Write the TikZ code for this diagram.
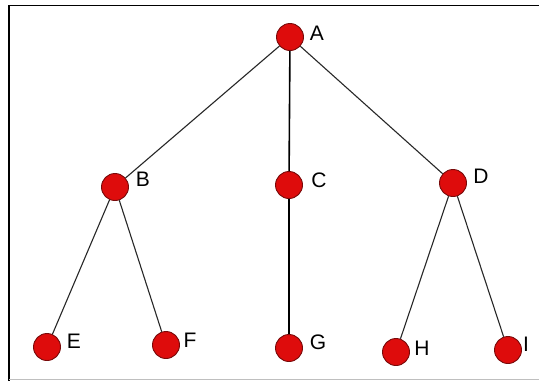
\documentclass[tikz,border=0pt]{standalone}
\usepackage{fontspec}
\setmainfont{Liberation Sans}
\definecolor{nodered}{RGB}{222,12,12}
\definecolor{nodeedge}{RGB}{120,10,10}
\definecolor{edgegray}{RGB}{40,40,40}
\tikzset{
  vert/.style={circle, fill=nodered, draw=nodeedge, line width=0.9pt, minimum size=27pt, inner sep=0pt},
  lbl/.style={font=\fontsize{21}{21}\selectfont, text=black, inner sep=0pt},
  link/.style={draw=edgegray, line width=1.1pt},
  vlink/.style={draw=black, line width=1.6pt},
  frame/.style={draw=black, line width=1.3pt}
}
\begin{document}
\begin{tikzpicture}[x=1pt,y=-1pt]
\useasboundingbox (0,0) rectangle (539,381);
\fill[white] (0,0) rectangle (539,381);
% frame
\coordinate (f1) at (9,5.5);
\coordinate (f2) at (539,5.5);
\coordinate (f3) at (9,381);
\coordinate (f4) at (9,379.5);
\coordinate (f5) at (539,379.5);
\draw[frame] (f2) -- (f1) -- (f3);
\draw[draw=black!25, line width=1pt] (f4) -- (f5);
% vertices
\node[vert] (A) at (290,37) {};
\node[vert] (B) at (115,187) {};
\node[vert] (C) at (289,185) {};
\node[vert] (D) at (453,183) {};
\node[vert] (E) at (47,347) {};
\node[vert] (F) at (166,345) {};
\node[vert] (G) at (289,348) {};
\node[vert] (H) at (396,352) {};
\node[vert] (I) at (508,350) {};
% edges
\draw[link] (A) -- (B);
\draw[vlink] (A) -- (C);
\draw[link] (A) -- (D);
\draw[link] (B) -- (E);
\draw[link] (B) -- (F);
\draw[vlink] (C) -- (G);
\draw[link] (D) -- (H);
\draw[link] (D) -- (I);
% labels
\node[lbl] (lA) at (317,33) {A};
\node[lbl] (lB) at (143,179) {B};
\node[lbl] (lC) at (319,180) {C};
\node[lbl] (lD) at (481,176) {D};
\node[lbl] (lE) at (74,341) {E};
\node[lbl] (lF) at (190,340) {F};
\node[lbl] (lG) at (318,342) {G};
\node[lbl] (lH) at (422,348) {H};
\node[lbl] (lI) at (526,344) {I};
\end{tikzpicture}
\end{document}
